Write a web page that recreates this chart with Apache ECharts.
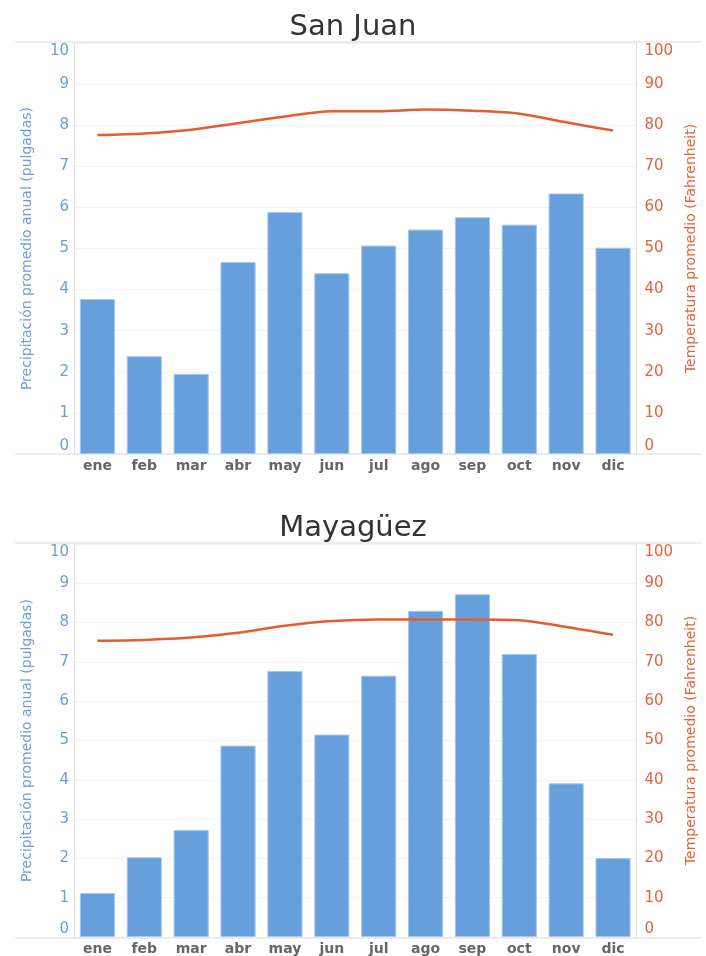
<!DOCTYPE html>
<html>
<head>
<meta charset="utf-8">
<script src="https://cdn.jsdelivr.net/npm/echarts@6/dist/echarts.min.js"></script>
<style>html,body{margin:0;padding:0;background:#fff}#c{width:706px;height:956px}</style>
</head>
<body>
<div id="c"></div>
<script>
const months = ['ene','feb','mar','abr','may','jun','jul','ago','sep','oct','nov','dic'];
const titles = ['San Juan', 'Mayagüez'];
const sjPrecip = [3.77, 2.38, 1.95, 4.67, 5.89, 4.40, 5.07, 5.46, 5.76, 5.58, 6.34, 5.02];
const sjTemp = [77.6, 78.0, 78.9, 80.5, 82.1, 83.4, 83.4, 83.8, 83.5, 82.8, 80.7, 78.7];
const myPrecip = [1.12, 2.03, 2.72, 4.87, 6.77, 5.15, 6.65, 8.30, 8.72, 7.20, 3.91, 2.01];
const myTemp = [75.4, 75.6, 76.2, 77.4, 79.2, 80.4, 80.8, 80.8, 80.8, 80.6, 78.9, 76.9];
const leftName = 'Precipitación promedio anual (pulgadas)';
const rightName = 'Temperatura promedio (Fahrenheit)';

const FONT = 'DejaVu Sans';
const BLUE = '#6a9fdb';
const ORANGE = '#e5623a';
const BAR = '#669fdc';
const LINE = '#e35d2d';

const grids = [
  {left: 74, right: 69, top: 43, height: 411},
  {left: 74, right: 69, top: 544, height: 394}
];

function yLabel(color, max, min) {
  return {
    color: color, fontFamily: FONT, fontSize: 15,
    formatter: function (v) {
      if (v === max) return '{mx|' + v + '}';
      if (v === min) return '{mn|' + v + '}';
      return '' + v;
    },
    rich: {
      mx: {color: color, fontFamily: FONT, fontSize: 15, padding: [16, 0, 0, 0]},
      mn: {color: color, fontFamily: FONT, fontSize: 15, padding: [0, 0, 16, 0]}
    }
  };
}

const xAxis = [], yAxis = [], series = [], title = [], graphic = [];
const precips = [sjPrecip, myPrecip];
const temps = [sjTemp, myTemp];
grids.forEach((g, i) => {
  title.push({
    text: titles[i], left: 'center', top: g.top - 35,
    textStyle: {fontFamily: FONT, fontSize: 29, fontWeight: 'normal', color: '#333'}
  });
  xAxis.push({
    type: 'category', gridIndex: i, data: months,
    axisLine: {show: false}, axisTick: {show: false},
    axisLabel: {color: '#666', fontFamily: FONT, fontSize: 14, fontWeight: 'bold', margin: 5}
  });
  yAxis.push({
    type: 'value', gridIndex: i, min: 0, max: 10, interval: 1, position: 'left',
    name: leftName, nameLocation: 'middle', nameGap: 40, nameRotate: 90,
    nameTextStyle: {color: BLUE, fontFamily: FONT, fontSize: 14},
    axisLine: {show: true, lineStyle: {color: '#e0e0e0'}}, axisTick: {show: false},
    axisLabel: Object.assign(yLabel(BLUE, 10, 0), {margin: 5}),
    splitLine: {lineStyle: {color: '#f3f3f3'}}
  });
  yAxis.push({
    type: 'value', gridIndex: i, min: 0, max: 100, interval: 10, position: 'right',
    name: rightName, nameLocation: 'middle', nameGap: 42, nameRotate: 90,
    nameTextStyle: {color: ORANGE, fontFamily: FONT, fontSize: 14},
    axisLine: {show: true, lineStyle: {color: '#e0e0e0'}}, axisTick: {show: false},
    axisLabel: Object.assign(yLabel(ORANGE, 100, 0), {margin: 8}),
    splitLine: {show: false}
  });
  series.push({
    type: 'bar', xAxisIndex: i, yAxisIndex: 2 * i, data: precips[i],
    barCategoryGap: '25%',
    itemStyle: {color: BAR, borderColor: '#a8c8ee', borderWidth: 1}
  });
  series.push({
    type: 'line', xAxisIndex: i, yAxisIndex: 2 * i + 1, data: temps[i],
    smooth: 0.3, symbol: 'none', lineStyle: {color: LINE, width: 2.5}, z: 5
  });
  [g.top - 1, g.top + g.height].forEach(y => {
    graphic.push({
      type: 'line', shape: {x1: 15, y1: y, x2: 701, y2: y},
      style: {stroke: '#dcdcdc', lineWidth: 1}, z: 1
    });
  });
});

const chart = echarts.init(document.getElementById('c'), null, {renderer: 'canvas'});
chart.setOption({
  animation: false,
  backgroundColor: '#fff',
  title: title,
  grid: grids,
  xAxis: xAxis,
  yAxis: yAxis,
  series: series,
  graphic: graphic
});
</script>
</body>
</html>
